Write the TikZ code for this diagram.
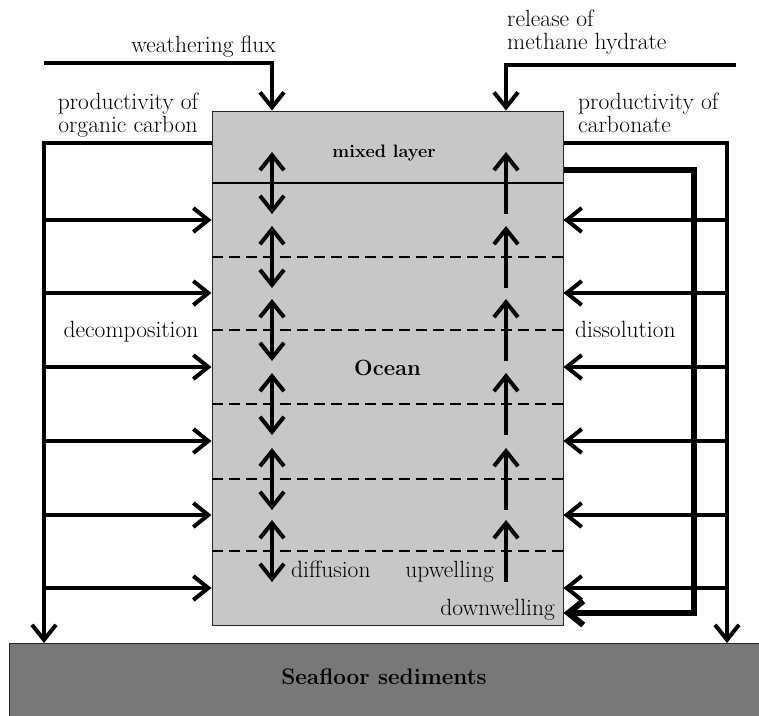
\documentclass[tikz,border=0pt]{standalone}
\usepackage{fontspec}
\usetikzlibrary{arrows.meta, positioning}

\begin{document}
\begin{tikzpicture}[
  x=1pt, y=-1pt,
  box/.style={draw=black!85, line width=1pt, inner sep=0pt},
  flux/.style={line width=4pt, -{Straight Barb[length=15pt, width=24pt]}},
  bothflux/.style={line width=4pt, {Straight Barb[length=15pt, width=24pt]}-{Straight Barb[length=15pt, width=24pt]}},
  downflux/.style={line width=6pt, -{Straight Barb[length=15pt, width=24pt]}},
  layer/.style={line width=2.5pt, dash pattern=on 11pt off 6pt},
  lbl/.style={font=\fontsize{23.5}{23}\selectfont, inner sep=0pt},
  boldlbl/.style={font=\bfseries\fontsize{22.5}{24}\selectfont, inner sep=0pt}
]
\useasboundingbox (0,0) rectangle (759,715);
\clip (0,0) rectangle (759,715);

% Seafloor and ocean
\node[box, fill=black!53, anchor=north west, minimum width=800pt, minimum height=120pt] (seafloor) at (9,643) {};
\node[boldlbl] (sedlbl) at (384,677) {Seafloor sediments};
\node[box, fill=black!22, minimum width=351pt, minimum height=514pt,
      font=\bfseries\fontsize{22}{24}\selectfont] (ocean) at (387.5,368) {Ocean};
\node[boldlbl, font=\bfseries\fontsize{18}{20}\selectfont, anchor=base] (mixlbl) at (384,157) {mixed layer};

% Layer boundaries
\coordinate (b1) at (0,183);
\draw[line width=1.5pt] (ocean.west |- b1) -- (ocean.east |- b1);
\foreach \y [count=\i from 2] in {257,330,404,479,551} {
  \coordinate (b\i) at (0,\y);
  \draw[layer] (ocean.west |- b\i) -- (ocean.east |- b\i);
}

% Diffusion and upwelling
\foreach \y [count=\i] in {183,257,330,404,479,551} {
  \coordinate (dif\i) at (272,\y);
  \coordinate (up\i) at (506,\y);
  \draw[bothflux] ([yshift=31pt]dif\i) -- ([yshift=-31pt]dif\i);
  \draw[flux] ([yshift=-31pt]up\i) -- ([yshift=31pt]up\i);
}

% Weathering flux and methane hydrate
\coordinate (wstart) at (44,63);
\coordinate (wturn) at (272,63);
\draw[flux] (wstart) -- (wturn) -- (ocean.north -| wturn);
\coordinate (mstart) at (736,65);
\coordinate (mturn) at (506,65);
\draw[flux] (mstart) -- (mturn) -- (ocean.north -| mturn);

% Organic carbon (left)
\coordinate (orgturn) at (44,143);
\draw[flux] (ocean.west |- orgturn) -- (orgturn) -- (orgturn |- seafloor.north);
\foreach \y [count=\i] in {220,293,367,441,515,588} {
  \coordinate (lf\i) at (44,\y);
  \draw[flux] (lf\i) -- (ocean.west |- lf\i);
}

% Carbonate (right)
\coordinate (carbturn) at (727,143);
\draw[flux] (ocean.east |- carbturn) -- (carbturn) -- (carbturn |- seafloor.north);
\foreach \y [count=\i] in {220,293,367,441,515,588} {
  \coordinate (rf\i) at (727,\y);
  \draw[flux] (rf\i) -- (ocean.east |- rf\i);
}

% Downwelling
\coordinate (dwtop) at (694,170);
\coordinate (dwbot) at (694,613);
\draw[downflux] (ocean.east |- dwtop) -- (dwtop) -- (dwbot) -- (ocean.east |- dwbot);

% Labels
\node[lbl, anchor=base east] (wlbl) at (276,52) {weathering flux};
\node[lbl, anchor=north west, align=left] (mlbl) at (507,10) {release of\\methane hydrate};
\node[lbl, anchor=north, align=center] (orglbl) at (128,93) {productivity of\\organic carbon};
\node[lbl, anchor=north west, align=left] (carblbl) at (578,93) {productivity of\\carbonate};
\node[lbl, anchor=base] (decomp) at (131,337) {decomposition};
\node[lbl, anchor=base west] (dissol) at (575,337) {dissolution};
\node[lbl, anchor=base west] (diflbl) at (291,577) {diffusion};
\node[lbl, anchor=base east] (uplbl) at (494,577) {upwelling};
\node[lbl, anchor=base east] (dwlbl) at (555,615) {downwelling};

\end{tikzpicture}
\end{document}
